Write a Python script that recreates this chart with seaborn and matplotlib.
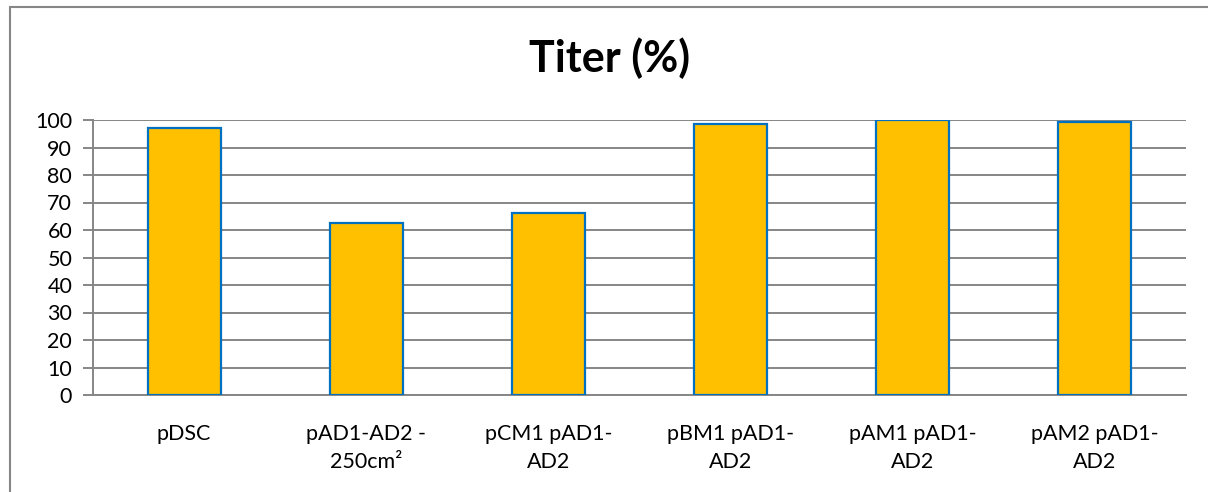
import pandas as pd
import seaborn as sns
import matplotlib.pyplot as plt
from matplotlib.lines import Line2D

categories = ["pDSC", "pAD1-AD2 -\n250cm²", "pCM1 pAD1-\nAD2", "pBM1 pAD1-\nAD2",
              "pAM1 pAD1-\nAD2", "pAM2 pAD1-\nAD2"]
titer = [97.0, 62.4, 66.1, 98.7, 100.0, 99.4]
y_ticks = list(range(0, 101, 10))

df = pd.DataFrame({"sample": categories, "titer": titer})

sns.set_style("white")
plt.rcParams["font.family"] = ["Lato", "DejaVu Sans"]
plt.rcParams["text.color"] = "black"
plt.rcParams["xtick.labelcolor"] = "black"
plt.rcParams["ytick.labelcolor"] = "black"

fig = plt.figure(figsize=(12.08, 4.92), dpi=100)
ax = fig.add_axes([93 / 1208, 97 / 492, (1186 - 93) / 1208, (395 - 120) / 492])

sns.barplot(df, x="sample", y="titer", color="#FFC000", saturation=1,
            width=0.4, edgecolor="#0070C0", linewidth=1.6, ax=ax, zorder=3)

grid_c = "#868686"
ax.set_ylim(0, 100)
ax.set_xlim(-0.5, len(categories) - 0.5)
ax.set_yticks(y_ticks)
ax.yaxis.grid(True, color=grid_c, linewidth=1.4, zorder=0)
ax.set_axisbelow(True)
for s in ["top", "right"]:
    ax.spines[s].set_visible(False)
for s in ["left", "bottom"]:
    ax.spines[s].set_color(grid_c)
    ax.spines[s].set_linewidth(1.4)

ax.set_xticks([i - 0.5 for i in range(len(categories) + 1)], minor=True)
ax.tick_params(axis="x", which="minor", length=7, width=1.4, color=grid_c, direction="out")
ax.tick_params(axis="x", which="major", length=0, pad=21, labelsize=15.5)
ax.tick_params(axis="y", length=7, width=1.4, color=grid_c, direction="out",
               left=True, labelsize=15.5, pad=8)
for lbl in ax.get_xticklabels():
    lbl.set_linespacing(1.5)
ax.set_xlabel("")
ax.set_ylabel("")

fig.text(610 / 1208, 1 - 58 / 492, "Titer (%)", ha="center", va="center",
         fontsize=31, fontweight="bold")

# chart border (left and top visible)
fig.add_artist(Line2D([10 / 1208, 10 / 1208], [0, 1 - 7 / 492], color=grid_c,
                      linewidth=1.5, transform=fig.transFigure))
fig.add_artist(Line2D([10 / 1208, 1], [1 - 7 / 492, 1 - 7 / 492], color=grid_c,
                      linewidth=1.5, transform=fig.transFigure))

fig.savefig("out.png", dpi=100)
